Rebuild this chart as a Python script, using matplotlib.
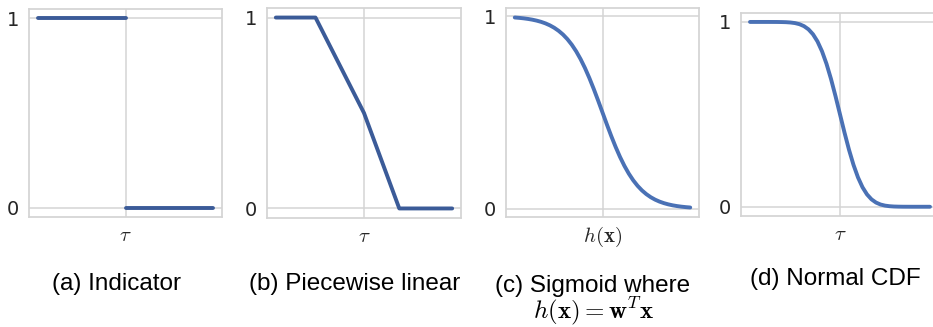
import matplotlib
matplotlib.use("Agg")
import matplotlib.pyplot as plt

plt.rcParams['mathtext.fontset'] = 'cm'

# ---------------- data ----------------
# (a) indicator: two flat pieces
ind_left_x = [-5, 0]
ind_left_y = [1, 1]
ind_right_x = [0, 5]
ind_right_y = [0, 0]

# (b) piecewise linear
pw_x = [-5, -2.75, 0, 2, 5]
pw_y = [1, 1, 0.5, 0, 0]

# (c) sigmoid, (d) normal CDF
curve_x = [-5.0, -4.75, -4.5, -4.25, -4.0, -3.75, -3.5, -3.25, -3.0, -2.75,
           -2.5, -2.25, -2.0, -1.75, -1.5, -1.25, -1.0, -0.75, -0.5, -0.25,
           0.0, 0.25, 0.5, 0.75, 1.0, 1.25, 1.5, 1.75, 2.0, 2.25,
           2.5, 2.75, 3.0, 3.25, 3.5, 3.75, 4.0, 4.25, 4.5, 4.75, 5.0]
sigmoid_y = [0.9933, 0.9914, 0.9890, 0.9859, 0.9820, 0.9770, 0.9707, 0.9627, 0.9526, 0.9399,
             0.9241, 0.9047, 0.8808, 0.8520, 0.8176, 0.7773, 0.7311, 0.6792, 0.6225, 0.5622,
             0.5000, 0.4378, 0.3775, 0.3208, 0.2689, 0.2227, 0.1824, 0.1480, 0.1192, 0.0953,
             0.0759, 0.0601, 0.0474, 0.0373, 0.0293, 0.0230, 0.0180, 0.0141, 0.0110, 0.0086, 0.0067]
normcdf_y = [1.0000, 1.0000, 1.0000, 1.0000, 1.0000, 0.9999, 0.9998, 0.9994, 0.9987, 0.9970,
             0.9938, 0.9878, 0.9772, 0.9599, 0.9332, 0.8944, 0.8413, 0.7734, 0.6915, 0.5987,
             0.5000, 0.4013, 0.3085, 0.2266, 0.1587, 0.1056, 0.0668, 0.0401, 0.0228, 0.0122,
             0.0062, 0.0030, 0.0013, 0.0006, 0.0002, 0.0001, 0.0000, 0.0000, 0.0000, 0.0000, 0.0000]

ytick_vals = [0, 1]
ytick_labels = ['0', '1']
xtick_labels = [r'$\tau$', r'$\tau$', r'$h(\mathbf{x})$', r'$\tau$']
captions = ['(a) Indicator', '(b) Piecewise linear', '(c) Sigmoid where', '(d) Normal CDF']
caption_math = r'$h(\mathbf{x}) = \mathbf{w}^T\mathbf{x}$'

# ---------------- figure ----------------
W, H = 933, 327
fig = plt.figure(figsize=(W / 100, H / 100), dpi=100)

def px_axes(l, t, r, b):
    return fig.add_axes([l / W, 1 - b / H, (r - l) / W, (b - t) / H])

boxes = [(29, 9, 222, 217), (267, 8, 461, 218), (506, 8, 699, 217), (741, 12.7, 939, 216)]
axes = [px_axes(*bx) for bx in boxes]

dark_blue = '#3b5b98'
mid_blue = '#4a71b5'
lw = 2.8

axes[0].plot(ind_left_x, ind_left_y, color=dark_blue, lw=lw, solid_capstyle='round')
axes[0].plot(ind_right_x, ind_right_y, color=dark_blue, lw=lw, solid_capstyle='round')
axes[1].plot(pw_x, pw_y, color=dark_blue, lw=lw, solid_capstyle='round')
axes[2].plot(curve_x, sigmoid_y, color=mid_blue, lw=lw, solid_capstyle='round')
axes[3].plot(curve_x, normcdf_y, color=mid_blue, lw=lw, solid_capstyle='round')

for ax, xl in zip(axes, xtick_labels):
    ax.set_facecolor('white')
    ax.set_xticks([0])
    ax.set_xticklabels([xl], fontsize=15)
    ax.set_yticks(ytick_vals)
    ax.set_yticklabels(ytick_labels, fontsize=14)
    ax.tick_params(length=0, colors='#262626')
    ax.tick_params(axis='x', pad=6)
    ax.tick_params(axis='y', pad=7)
    ax.grid(True, color='#d4d4d4', lw=1.1)
    ax.set_axisbelow(True)
    for sp in ax.spines.values():
        sp.set_color('#d4d4d4')
        sp.set_linewidth(1.25)

cap_font = dict(family='Liberation Sans', fontsize=17.5, color='black', ha='center', va='baseline')
cap_pos = [(116, 290), (355, 290), (593, 291.7), (835.5, 285)]
for txt, (cx, cy) in zip(captions, cap_pos):
    fig.text(cx / W, 1 - cy / H, txt, **cap_font)
fig.text(593 / W, 1 - 318.5 / H, caption_math, fontsize=18, color='black', ha='center', va='baseline')

fig.savefig('out.png', dpi=100, facecolor='white')
